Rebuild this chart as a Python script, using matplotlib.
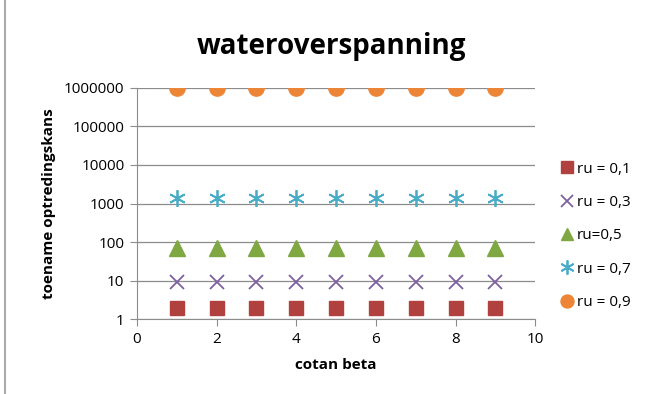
import matplotlib
matplotlib.use("Agg")
import matplotlib.pyplot as plt
from matplotlib.patches import Rectangle

plt.rcParams['font.family'] = ['Open Sans', 'DejaVu Sans']

# data
cotan_beta = [1, 2, 3, 4, 5, 6, 7, 8, 9]
ru_01 = [1.9] * 9
ru_03 = [9] * 9
ru_05 = [70] * 9
ru_07 = [1400] * 9
ru_09 = [1000000] * 9

labels = ['ru = 0,1', 'ru = 0,3', 'ru=0,5', 'ru = 0,7', 'ru = 0,9']
y_ticks = [1, 10, 100, 1000, 10000, 100000, 1000000]
x_ticks = [0, 2, 4, 6, 8, 10]

fig = plt.figure(figsize=(6.54, 3.94), dpi=100)
ax = fig.add_axes([0.2095, 0.19, 0.609, 0.587])

grid_c = '#8c8c8c'
ax.plot(cotan_beta, ru_01, 's', color='#B0413E', ms=10, ls='none', label=labels[0])
ax.plot(cotan_beta, ru_03, 'x', color='#7D60A0', ms=10, mew=1.3, ls='none', label=labels[1])
ax.plot(cotan_beta, ru_05, '^', color='#7FA843', ms=11, ls='none', label=labels[2])
ax.plot(cotan_beta, ru_07, marker=(6, 2, 0), color='#4AACC6', ms=12, mew=1.3, ls='none', label=labels[3])
ax.plot(cotan_beta, ru_09, 'o', color='#ED8537', ms=11, ls='none', label=labels[4])

ax.set_yscale('log')
ax.set_ylim(1, 1000000)
ax.set_xlim(0, 10)
ax.set_yticks(y_ticks)
ax.set_yticklabels([str(v) for v in y_ticks])
ax.minorticks_off()
ax.set_xticks(x_ticks)
ax.grid(axis='y', color=grid_c, lw=0.9)
ax.set_axisbelow(True)
for s in ['top', 'right']:
    ax.spines[s].set_visible(False)
for s in ['left', 'bottom']:
    ax.spines[s].set_color(grid_c)
ax.tick_params(axis='both', color=grid_c, length=5, labelsize=11, pad=4)

ax.set_xlabel('cotan beta', fontsize=11, fontweight='bold', labelpad=8)
ax.set_ylabel('toename optredingskans', fontsize=11, fontweight='bold', labelpad=6)
fig.suptitle('wateroverspanning', fontsize=20, fontweight='bold', x=0.507, y=0.92)

ax.legend(loc='center left', bbox_to_anchor=(1.04, 0.36), frameon=False,
          fontsize=11, handletextpad=0.1, labelspacing=1.2, borderaxespad=0,
          markerscale=0.85, handlelength=1.2)

fig.patches.append(Rectangle((0.008, -0.01), 1.1, 1.1, transform=fig.transFigure,
                             fill=False, edgecolor='#aaaaaa', lw=1.5))

fig.savefig('out.png', dpi=100)
